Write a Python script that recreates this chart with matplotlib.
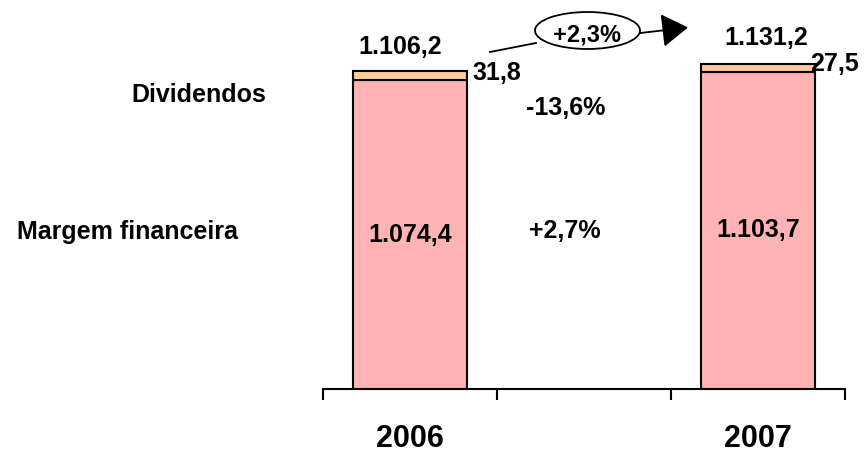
import matplotlib
matplotlib.use("Agg")
import matplotlib.pyplot as plt
from matplotlib.patches import Ellipse, FancyArrowPatch

plt.rcParams['font.family'] = ['Liberation Sans', 'DejaVu Sans']
plt.rcParams['font.weight'] = 'bold'

# data
years = ["2006", "", "2007"]
margem = [1074.4, 0, 1103.7]
dividendos = [31.8, 0, 27.5]
totais = [1106.2, 0, 1131.2]
margem_lbl = ["1.074,4", "", "1.103,7"]
div_lbl = ["31,8", "", "27,5"]
total_lbl = ["1.106,2", "", "1.131,2"]
var_margem = "+2,7%"
var_div = "-13,6%"
var_total = "+2,3%"

W, H = 865, 454
fig = plt.figure(figsize=(W / 100, H / 100), dpi=100)

# axes placed in pixel terms: x 323..845, baseline at y=389
scale = 0.2875  # px per unit
ymax = 1300
ax = fig.add_axes([323 / W, 65 / H, (845 - 323) / W, ymax * scale / H])

x = list(range(len(years)))
ax.bar(x, margem, width=0.66, color="#FFB3B3", edgecolor="black", linewidth=1.5)
ax.bar(x, dividendos, width=0.66, bottom=margem, color="#FFCC99",
       edgecolor="black", linewidth=1.5)
# hide the empty middle category bars
for p in ax.patches:
    if p.get_height() == 0:
        p.set_visible(False)

ax.set_xlim(-0.5, 2.5)
ax.set_ylim(0, ymax)
for s in ["top", "right", "left"]:
    ax.spines[s].set_visible(False)
ax.spines["bottom"].set_linewidth(1.5)
ax.set_yticks([])
ax.set_xticks([-0.5, 0.5, 1.5, 2.5])
ax.set_xticklabels([])
ax.tick_params(axis="x", which="major", direction="out", length=8, width=1.5)
ax.set_xticks([0, 2], minor=True)
ax.set_xticklabels([years[0], years[2]], minor=True, fontsize=22, fontweight="bold")
ax.tick_params(axis="x", which="minor", length=0, pad=25)

fs = 18
for i in [0, 2]:
    ax.text(i, margem[i] / 2, margem_lbl[i], ha="center", va="center", fontsize=fs)

ax.text(-0.057, 1189, total_lbl[0], ha="center", va="center", fontsize=fs)
ax.text(2.046, 1221, total_lbl[2], ha="center", va="center", fontsize=fs)
ax.text(0.5, 1099, div_lbl[0], ha="center", va="center", fontsize=fs)
ax.text(2.44, 1130, div_lbl[2], ha="center", va="center", fontsize=fs, clip_on=False)

ax.text(0.895, 977, var_div, ha="center", va="center", fontsize=fs)
ax.text(0.89, 550, var_margem, ha="center", va="center", fontsize=fs)

ax.text(-1.213, 1023, "Dividendos", ha="center", va="center", fontsize=fs, clip_on=False)
ax.text(-1.626, 546, "Margem financeira", ha="center", va="center", fontsize=fs,
        clip_on=False)


def px(xp, yp):
    return (xp / W, 1 - yp / H)


# arrow with the total growth bubble
fig.add_artist(plt.Line2D([490 / W, 536 / W], [1 - 52 / H, 1 - 43 / H],
                          color="black", linewidth=1.3))
fig.patches.append(FancyArrowPatch(
    px(636, 33.5), px(688, 27.5), transform=fig.transFigure,
    arrowstyle="-|>,head_length=1.1,head_width=0.7", mutation_scale=15,
    shrinkA=0, shrinkB=0, color="black", linewidth=1.3))
ell = Ellipse(px(587.5, 30.5), 105 / W, 37 / H, transform=fig.transFigure,
              facecolor="white", edgecolor="black", linewidth=1.3)
fig.patches.append(ell)
fig.text(587 / W, 1 - 35 / H, var_total, ha="center", va="center", fontsize=17)

fig.savefig("out.png", dpi=100)
